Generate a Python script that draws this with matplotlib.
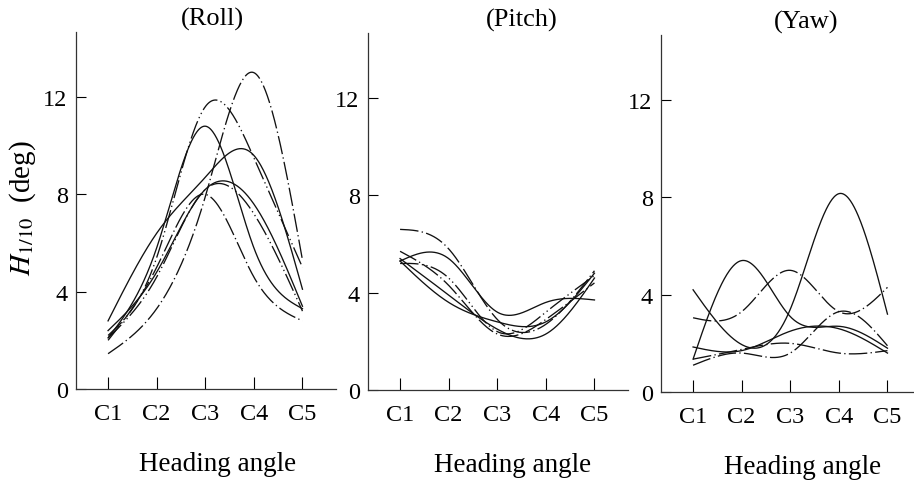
import matplotlib
matplotlib.use("Agg")
import matplotlib.pyplot as plt
import numpy as np

plt.rcParams["font.family"] = ["Liberation Serif", "DejaVu Serif"]
plt.rcParams["mathtext.fontset"] = "stix"

headings = ["C1", "C2", "C3", "C4", "C5"]

# H1/10 (deg) at each heading angle, one row per case
roll = [
    [1.45, 3.3, 7.9, 13.0, 5.3],
    [2.2, 5.4, 11.6, 9.5, 5.0],
    [2.1, 5.8, 10.8, 5.8, 3.3],
    [2.8, 6.4, 8.7, 9.6, 4.1],
    [2.4, 4.8, 8.2, 7.6, 3.4],
    [2.1, 4.6, 8.2, 7.2, 3.2],
    [2.0, 5.0, 8.0, 4.6, 2.8],
]
pitch = [
    [6.6, 5.8, 2.9, 2.7, 4.9],
    [5.3, 5.4, 3.2, 3.6, 3.7],
    [5.7, 4.3, 2.3, 2.9, 4.4],
    [5.3, 3.6, 2.8, 2.8, 4.8],
    [5.4, 3.9, 2.5, 2.3, 4.6],
    [5.2, 4.6, 2.4, 3.2, 4.7],
]
yaw = [
    [1.35, 5.4, 3.1, 2.7, 1.8],
    [4.2, 1.95, 3.4, 8.15, 3.2],
    [3.05, 3.3, 5.0, 3.3, 4.3],
    [1.1, 1.6, 1.6, 3.3, 1.9],
    [1.85, 1.7, 2.5, 2.6, 1.6],
    [1.35, 1.75, 2.0, 1.6, 1.7],
]

dash_dot = (0, (14, 2.5, 1, 2.5))
dash_dot_dot = (0, (14, 2.5, 1, 2.5, 1, 2.5))
roll_styles = [dash_dot, dash_dot_dot, "-", "-", "-", dash_dot_dot, dash_dot]
pitch_styles = [dash_dot, "-", dash_dot, "-", "-", dash_dot_dot]
yaw_styles = ["-", "-", dash_dot, dash_dot, "-", dash_dot]


def smooth(y, n=300):
    """natural cubic spline through the values at C1..C5"""
    y = np.asarray(y, dtype=float)
    m = len(y)
    A = np.zeros((m, m))
    b = np.zeros(m)
    A[0, 0] = A[-1, -1] = 1
    for i in range(1, m - 1):
        A[i, i - 1:i + 2] = [1, 4, 1]
        b[i] = 6 * (y[i + 1] - 2 * y[i] + y[i - 1])
    M = np.linalg.solve(A, b)
    xs = np.linspace(1, m, n)
    i = np.clip(np.floor(xs - 1).astype(int), 0, m - 2)
    t = xs - (i + 1)
    ys = (M[i] * (1 - t) ** 3 / 6 + M[i + 1] * t ** 3 / 6
          + (y[i] - M[i] / 6) * (1 - t) + (y[i + 1] - M[i + 1] / 6) * t)
    return xs, ys


W, H = 914, 481
fig = plt.figure(figsize=(W / 100, H / 100), dpi=100)

panels = [
    ("(Roll)", roll, roll_styles, 76, 390, 0.525, 0.545),
    ("(Pitch)", pitch, pitch_styles, 368, 391, 0.59, 0.555),
    ("(Yaw)", yaw, yaw_styles, 661, 393, 0.56, 0.545),
]

for k, (title, data, styles, left, base, tx, lx) in enumerate(panels):
    ax = fig.add_axes([left / W, (H - base) / H, 260 / W, 357 / H])
    for vals, ls in zip(data, styles):
        xs, ys = smooth(vals)
        ax.plot(xs, ys, color="#111111", lw=0.95, linestyle=ls)
    ax.set_xlim(0.34, 5.69)
    ax.set_ylim(0, 14.67)
    ax.set_xticks(range(1, 6))
    ax.set_xticklabels(headings)
    ax.set_yticks([0, 4, 8, 12])
    ax.tick_params(axis="x", direction="in", length=8.5, width=0.8,
                   pad=10, labelsize=17.5)
    ax.tick_params(axis="y", direction="in", length=7, width=0.8,
                   pad=6, labelsize=17.5)
    for side in ("top", "right"):
        ax.spines[side].set_visible(False)
    for side in ("left", "bottom"):
        ax.spines[side].set_linewidth(0.9)
        ax.spines[side].set_color("#333333")
    ax.set_facecolor("none")
    ax.text(tx, 1.037, title, transform=ax.transAxes, ha="center",
            va="center", fontsize=19)
    ax.text(lx, -0.21, "Heading angle", transform=ax.transAxes,
            ha="center", va="center", fontsize=19.5)
    if k == 0:
        ax.text(-0.205, 0.51, r"$H_{1/10}$  (deg)", transform=ax.transAxes,
                rotation=90, ha="center", va="center", fontsize=21)

fig.savefig("out.png", dpi=100)
